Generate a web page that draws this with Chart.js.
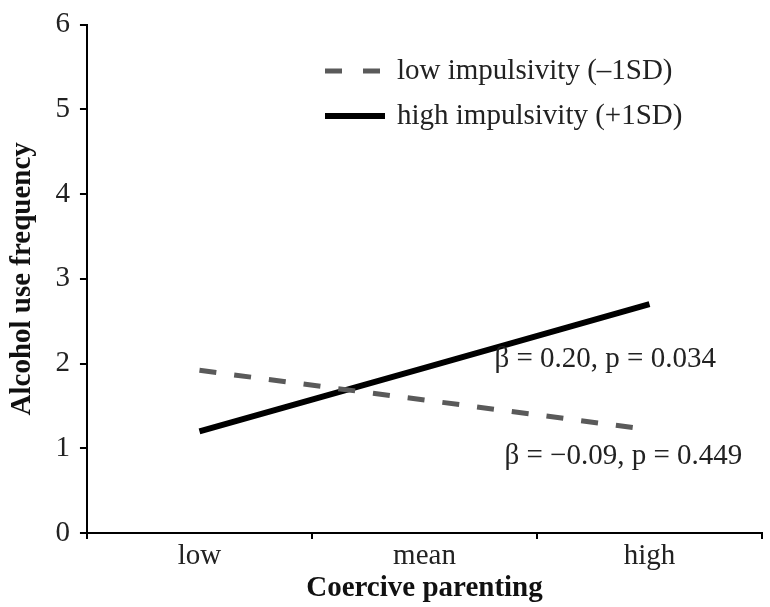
<!DOCTYPE html>
<html>
<head>
<meta charset="utf-8">
<script src="https://cdn.jsdelivr.net/npm/chart.js@4"></script>
<style>
  body { margin: 0; background: #fff; }
  #wrap { width: 770px; height: 607px; }
</style>
</head>
<body>
<div id="wrap"><canvas id="chart"></canvas></div>
<script>
// values
const categories = ['low', 'mean', 'high'];
const lowImpulsivity = [1.92, 1.57, 1.22];
const highImpulsivity = [1.20, 1.95, 2.70];
const yTicks = [0, 1, 2, 3, 4, 5, 6];
const seriesNames = ['low impulsivity (\u20131SD)', 'high impulsivity (+1SD)'];
const slopeNotes = ['\u03B2 = 0.20, p = 0.034', '\u03B2 = \u22120.09, p = 0.449'];

const serif = "'Liberation Serif', 'Times New Roman', serif";

// legend drawn inside the plot area, top right
const insideLegend = {
  id: 'insideLegend',
  afterDraw(chart) {
    const ctx = chart.ctx;
    const x0 = 325;
    let y = 71;
    ctx.save();
    chart.data.datasets.forEach(ds => {
      ctx.strokeStyle = ds.borderColor;
      ctx.lineWidth = ds.borderWidth;
      ctx.setLineDash(ds.borderDash ? [17, 21] : []);
      ctx.beginPath();
      ctx.moveTo(x0, y);
      ctx.lineTo(x0 + (ds.borderDash ? 55 : 60), y);
      ctx.stroke();
      ctx.setLineDash([]);
      ctx.fillStyle = '#222';
      ctx.font = '29px ' + serif;
      ctx.textBaseline = 'middle';
      ctx.fillText(ds.label, x0 + 72, y);
      y += 45;
    });
    ctx.restore();
  }
};

// beta / p notes beside the line ends
const notes = {
  id: 'notes',
  afterDraw(chart) {
    const ctx = chart.ctx;
    const xs = chart.scales.x, ys = chart.scales.y;
    ctx.save();
    ctx.fillStyle = '#222';
    ctx.font = '29px ' + serif;
    ctx.textBaseline = 'middle';
    ctx.fillText(slopeNotes[0], xs.getPixelForValue(1) + 70, ys.getPixelForValue(2.05));
    ctx.fillText(slopeNotes[1], xs.getPixelForValue(1) + 80, ys.getPixelForValue(0.9));
    ctx.restore();
  }
};

const ctx = document.getElementById('chart').getContext('2d');
new Chart(ctx, {
  type: 'line',
  data: {
    labels: categories,
    datasets: [
      {
        label: seriesNames[0],
        data: lowImpulsivity,
        borderColor: '#5a5a5a',
        borderWidth: 5,
        borderDash: [17, 18],
        pointRadius: 0,
        tension: 0
      },
      {
        label: seriesNames[1],
        data: highImpulsivity,
        borderColor: '#000',
        borderWidth: 6,
        pointRadius: 0,
        tension: 0
      }
    ]
  },
  options: {
    responsive: true,
    maintainAspectRatio: false,
    animation: false,
    layout: { padding: { top: 2, right: 8, left: 7, bottom: 3 } },
    plugins: {
      legend: { display: false },
      tooltip: { enabled: false }
    },
    scales: {
      x: {
        offset: true,
        grid: {
          offset: true,
          drawOnChartArea: false,
          color: '#000',
          tickLength: 6,
          lineWidth: 2
        },
        border: { color: '#000', width: 2 },
        ticks: { color: '#222', font: { family: serif, size: 29, lineHeight: 1.05 }, padding: 2 },
        title: {
          display: true,
          text: 'Coercive parenting',
          color: '#111',
          font: { family: serif, size: 29, weight: 'bold', lineHeight: 1.05 },
          padding: { top: 0, bottom: 0 }
        }
      },
      y: {
        min: 0,
        max: 6,
        afterBuildTicks: axis => { axis.ticks = yTicks.map(v => ({ value: v })); },
        grid: {
          drawOnChartArea: false,
          color: '#000',
          tickLength: 7,
          lineWidth: 2
        },
        border: { color: '#000', width: 2 },
        ticks: { color: '#222', font: { family: serif, size: 29, lineHeight: 1.0 }, padding: 10 },
        title: {
          display: true,
          text: 'Alcohol use frequency',
          color: '#111',
          font: { family: serif, size: 29, weight: 'bold', lineHeight: 1.05 },
          padding: { top: 0, bottom: 8 }
        }
      }
    }
  },
  plugins: [insideLegend, notes]
});
</script>
</body>
</html>
